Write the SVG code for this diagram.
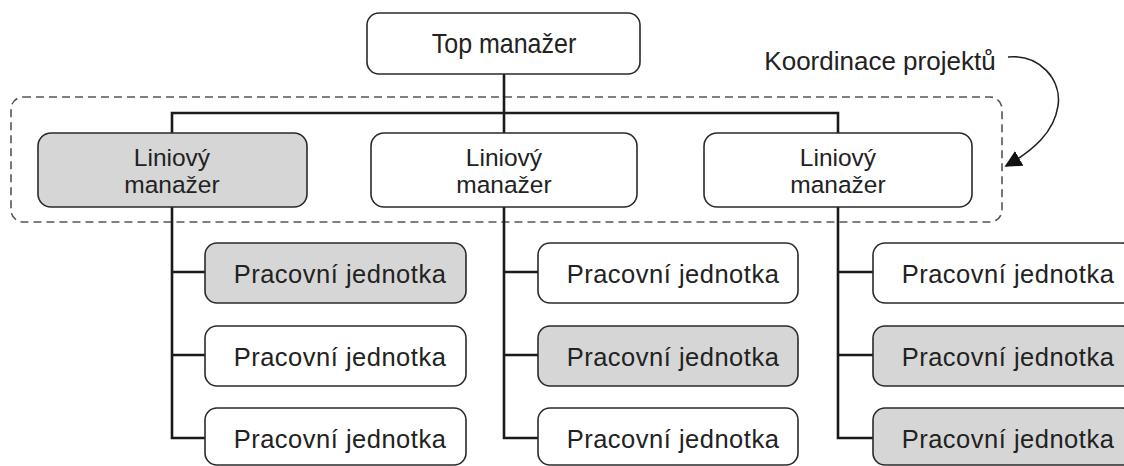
<svg xmlns="http://www.w3.org/2000/svg" width="1124" height="466" viewBox="0 0 1124 466">
<style>
.box{fill:#ffffff;stroke:#2a2a2a;stroke-width:1.6}
.grey{fill:#d6d6d6}
.t{font-family:"Liberation Sans",Arial,sans-serif;font-size:25px;fill:#222222;text-anchor:middle}
.u{font-size:25.5px;letter-spacing:0.5px}
.l{font-size:24.5px}
.con{fill:none;stroke:#1a1a1a;stroke-width:2.6}
.dash{fill:none;stroke:#555555;stroke-width:1.6;stroke-dasharray:8,5}
</style>
<defs>
<marker id="ah2" viewBox="0 0 10 10" refX="9" refY="5" markerWidth="17" markerHeight="17" markerUnits="userSpaceOnUse" orient="auto">
<path d="M0,0 L10,5 L0,10 z" fill="#111111"/>
</marker>
</defs>
<rect width="1124" height="466" fill="#ffffff"/>

<g id="coordination">
<rect class="dash" x="11" y="97" width="991" height="125" rx="12"/>
<text class="t" x="880" y="70" style="font-size:26px">Koordinace projektů</text>
<path d="M1008,57 C1040,54 1062,80 1058,106 C1054,132 1034,150 1006,166" fill="none" stroke="#222222" stroke-width="1.6" marker-end="url(#ah2)"/>
</g>

<g id="connectors">
<path class="con" d="M504,74 V133"/>
<path class="con" d="M172,133 V113 H838 V133"/>
<path class="con" d="M172,207 V438 H205 M172,272 H205 M172,355 H205"/>
<path class="con" d="M504,207 V438 H538 M504,272 H538 M504,355 H538"/>
<path class="con" d="M838,207 V438 H873 M838,272 H873 M838,355 H873"/>
</g>

<g id="top">
<rect class="box" x="367" y="13" width="273" height="61" rx="12"/>
<text class="t" transform="translate(504,53) scale(1,1.1)">Top manažer</text>
</g>

<g id="line1">
<rect class="box grey" x="38" y="133" width="269" height="74" rx="13"/>
<text class="t l" x="172" y="166">Liniový</text>
<text class="t l" x="172" y="193">manažer</text>
</g>
<g id="line2">
<rect class="box" x="371" y="133" width="266" height="74" rx="13"/>
<text class="t l" x="504" y="166">Liniový</text>
<text class="t l" x="504" y="193">manažer</text>
</g>
<g id="line3">
<rect class="box" x="704" y="133" width="268" height="74" rx="13"/>
<text class="t l" x="838" y="166">Liniový</text>
<text class="t l" x="838" y="193">manažer</text>
</g>

<g id="unit1a"><rect class="box grey" x="205" y="243" width="261" height="60" rx="12"/><text class="t u" x="340" y="283">Pracovní jednotka</text></g>
<g id="unit1b"><rect class="box" x="205" y="326" width="261" height="60" rx="12"/><text class="t u" x="340" y="366">Pracovní jednotka</text></g>
<g id="unit1c"><rect class="box" x="205" y="408" width="261" height="57" rx="12"/><text class="t u" x="340" y="448">Pracovní jednotka</text></g>

<g id="unit2a"><rect class="box" x="538" y="243" width="260" height="60" rx="12"/><text class="t u" x="673" y="283">Pracovní jednotka</text></g>
<g id="unit2b"><rect class="box grey" x="538" y="326" width="260" height="60" rx="12"/><text class="t u" x="673" y="366">Pracovní jednotka</text></g>
<g id="unit2c"><rect class="box" x="538" y="408" width="260" height="57" rx="12"/><text class="t u" x="673" y="448">Pracovní jednotka</text></g>

<g id="unit3a"><rect class="box" x="873" y="243" width="261" height="60" rx="12"/><text class="t u" x="1008" y="283">Pracovní jednotka</text></g>
<g id="unit3b"><rect class="box grey" x="873" y="326" width="261" height="60" rx="12"/><text class="t u" x="1008" y="366">Pracovní jednotka</text></g>
<g id="unit3c"><rect class="box grey" x="873" y="408" width="261" height="57" rx="12"/><text class="t u" x="1008" y="448">Pracovní jednotka</text></g>
</svg>
